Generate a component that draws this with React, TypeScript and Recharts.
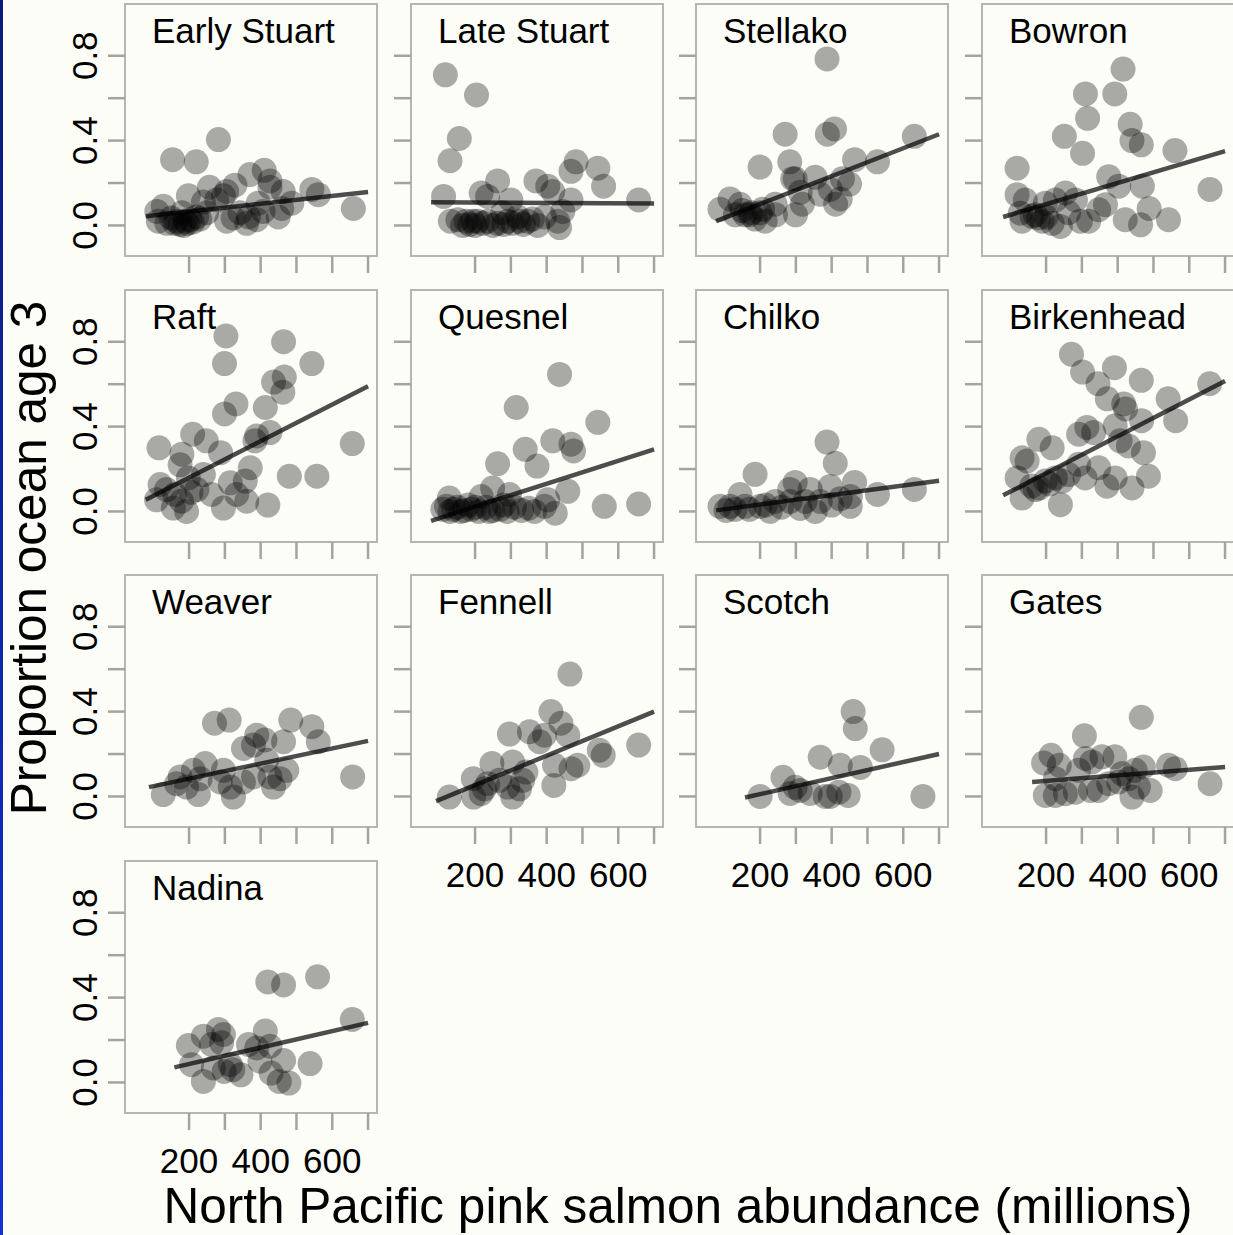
import React from "react";
import { ScatterChart, Scatter, XAxis, YAxis, ReferenceArea, ReferenceLine, Label } from "recharts";

type Pt = [number, number];

const panelNames = [
  "Early Stuart", "Late Stuart", "Stellako", "Bowron",
  "Raft", "Quesnel", "Chilko", "Birkenhead",
  "Weaver", "Fennell", "Scotch", "Gates",
  "Nadina",
];

// x = pink salmon abundance (millions), y = proportion ocean age 3
const earlyStuart: Pt[] = [
  [282, 0.405], [154, 0.31], [220, 0.3], [370, 0.24], [410, 0.26], [198, 0.14], [257, 0.18],
  [305, 0.16], [328, 0.19], [426, 0.21], [463, 0.16], [487, 0.105], [543, 0.17], [561, 0.145],
  [659, 0.08], [110, 0.066], [128, 0.09], [114, 0.02], [138, 0.01], [165, 0.02], [189, 0.02],
  [203, 0.027], [221, 0.04], [240, 0.11], [249, 0.06], [277, 0.12], [296, 0.14], [305, 0.02],
  [323, 0.035], [361, 0.01], [366, 0.04], [389, 0.027], [393, 0.105], [407, 0.066], [426, 0.18],
  [449, 0.04], [459, 0.08], [342, 0.06], [180, 0.06], [175, 0.005], [150, 0.035], [160, 0.01],
  [185, 0.0], [195, 0.01], [210, 0.015], [230, 0.03],
];
const lateStuart: Pt[] = [
  [117, 0.71], [204, 0.615], [156, 0.41], [130, 0.305], [112, 0.137], [131, 0.02], [152, 0.027],
  [175, 0.02], [194, 0.02], [217, 0.153], [263, 0.21], [235, 0.137], [207, 0.02], [235, 0.02],
  [263, 0.01], [300, 0.12], [291, 0.02], [319, 0.04], [347, 0.02], [370, 0.21], [375, 0.0],
  [403, 0.185], [417, 0.16], [394, 0.04], [431, 0.02], [436, -0.01], [445, 0.066], [468, 0.12],
  [482, 0.3], [468, 0.255], [543, 0.27], [559, 0.185], [657, 0.12], [324, 0.02], [277, 0.06],
  [165, 0.0], [185, 0.005], [200, 0.0], [222, 0.01], [250, 0.0], [280, 0.005], [305, 0.01],
  [335, 0.005], [360, 0.03],
];
const stellako: Pt[] = [
  [387, 0.785], [270, 0.43], [388, 0.43], [408, 0.455], [200, 0.275], [283, 0.3], [464, 0.31],
  [528, 0.3], [631, 0.42], [291, 0.22], [430, 0.22], [450, 0.195], [424, 0.125], [411, 0.1],
  [318, 0.1], [299, 0.05], [243, 0.05], [207, 0.076], [172, 0.05], [131, 0.05], [88, 0.076],
  [116, 0.125], [158, 0.05], [186, 0.03], [214, 0.02], [144, 0.1], [368, 0.147], [396, 0.17],
  [354, 0.227], [312, 0.156], [242, 0.1], [298, 0.22], [200, 0.06], [150, 0.07], [175, 0.06],
];
const bowron: Pt[] = [
  [415, 0.737], [310, 0.62], [392, 0.62], [316, 0.505], [251, 0.42], [435, 0.477], [440, 0.4],
  [466, 0.38], [302, 0.34], [560, 0.353], [119, 0.27], [119, 0.145], [142, 0.12], [375, 0.23],
  [403, 0.185], [469, 0.185], [488, 0.08], [542, 0.027], [464, 0.003], [421, 0.027], [347, 0.074],
  [366, 0.098], [319, 0.02], [296, 0.02], [282, 0.12], [254, 0.153], [226, 0.12], [198, 0.105],
  [179, 0.035], [161, 0.043], [133, 0.02], [128, 0.058], [189, 0.02], [217, 0.01], [240, -0.005],
  [263, 0.06], [658, 0.17], [170, 0.05], [200, 0.04],
];
const raft: Pt[] = [
  [303, 0.827], [299, 0.697], [464, 0.8], [543, 0.697], [436, 0.61], [466, 0.634], [462, 0.562],
  [413, 0.49], [331, 0.507], [299, 0.46], [389, 0.356], [426, 0.372], [656, 0.32], [480, 0.166],
  [557, 0.166], [116, 0.3], [210, 0.364], [248, 0.333], [180, 0.27], [175, 0.22], [288, 0.277],
  [371, 0.206], [357, 0.143], [315, 0.135], [240, 0.174], [198, 0.158], [222, 0.103], [119, 0.127],
  [137, 0.103], [109, 0.055], [156, 0.016], [193, 0.0], [179, 0.048], [263, 0.08], [296, 0.016],
  [333, 0.08], [361, 0.048], [420, 0.03], [384, 0.333], [205, 0.09], [160, 0.08],
];
const quesnel: Pt[] = [
  [436, 0.646], [315, 0.49], [543, 0.42], [417, 0.333], [468, 0.317], [475, 0.285], [340, 0.293],
  [373, 0.214], [263, 0.225], [459, 0.095], [249, 0.11], [128, 0.063], [561, 0.024], [657, 0.035],
  [424, -0.008], [394, 0.024], [366, 0.0], [110, 0.01], [130, 0.0], [150, 0.02], [170, 0.005],
  [190, 0.01], [210, 0.0], [230, 0.02], [250, 0.005], [270, 0.01], [290, 0.0], [310, 0.02],
  [330, 0.005], [217, 0.07], [296, 0.08], [403, 0.055], [120, 0.025], [180, 0.03], [140, 0.01],
  [160, 0.0], [200, 0.02], [240, 0.0], [280, 0.03], [350, 0.015],
];
const chilko: Pt[] = [
  [387, 0.327], [410, 0.227], [186, 0.175], [298, 0.137], [464, 0.137], [528, 0.08], [631, 0.104],
  [283, 0.104], [340, 0.104], [396, 0.118], [144, 0.08], [88, 0.024], [116, 0.024], [158, 0.024],
  [200, 0.024], [242, 0.047], [284, 0.047], [326, 0.047], [368, 0.047], [424, 0.06], [452, 0.07],
  [228, 0.0], [354, 0.0], [452, 0.024], [312, 0.014], [105, 0.005], [170, 0.01], [130, 0.01],
  [215, 0.03], [260, 0.02], [400, 0.03],
];
const birkenhead: Pt[] = [
  [271, 0.741], [302, 0.657], [391, 0.678], [466, 0.618], [345, 0.602], [371, 0.531], [417, 0.507],
  [422, 0.483], [541, 0.531], [657, 0.602], [562, 0.428], [467, 0.428], [393, 0.404], [314, 0.396],
  [291, 0.364], [333, 0.372], [407, 0.333], [430, 0.309], [472, 0.277], [180, 0.34], [217, 0.3],
  [133, 0.253], [147, 0.238], [119, 0.158], [133, 0.063], [170, 0.103], [198, 0.143], [226, 0.158],
  [263, 0.174], [309, 0.158], [347, 0.206], [370, 0.119], [393, 0.158], [440, 0.111], [486, 0.166],
  [240, 0.032], [180, 0.11], [245, 0.143], [291, 0.222], [210, 0.13], [160, 0.12],
];
const weaver: Pt[] = [
  [271, 0.345], [312, 0.36], [484, 0.36], [543, 0.329], [561, 0.258], [464, 0.258], [389, 0.289],
  [412, 0.266], [352, 0.226], [380, 0.242], [657, 0.092], [128, 0.009], [226, 0.009], [175, 0.092],
  [193, 0.044], [212, 0.123], [245, 0.155], [231, 0.084], [296, 0.123], [287, 0.068], [324, -0.003],
  [315, 0.044], [352, 0.068], [380, 0.092], [417, 0.171], [426, 0.092], [436, 0.044], [473, 0.123],
  [454, 0.084], [165, 0.06],
];
const fennell: Pt[] = [
  [465, 0.577], [412, 0.4], [440, 0.345], [394, 0.289], [380, 0.258], [352, 0.305], [296, 0.294],
  [459, 0.289], [657, 0.242], [547, 0.218], [558, 0.194], [487, 0.147], [468, 0.131], [422, 0.147],
  [420, 0.052], [247, 0.155], [305, 0.163], [342, 0.115], [195, 0.084], [128, -0.003], [196, -0.003],
  [217, 0.013], [235, 0.06], [268, 0.076], [291, 0.044], [305, -0.003], [324, 0.036], [333, 0.076],
  [226, 0.036],
];
const scotch: Pt[] = [
  [460, 0.4], [466, 0.32], [541, 0.22], [368, 0.185], [424, 0.147], [480, 0.137], [264, 0.09],
  [200, 0.0], [284, 0.014], [312, 0.028], [340, 0.014], [382, 0.0], [396, 0.0], [446, 0.005],
  [655, 0.0], [298, 0.043], [420, 0.02],
];
const gates: Pt[] = [
  [466, 0.373], [307, 0.286], [214, 0.194], [193, 0.158], [237, 0.147], [310, 0.179], [328, 0.163],
  [356, 0.187], [392, 0.187], [412, 0.108], [431, 0.084], [449, 0.123], [472, 0.139], [542, 0.147],
  [561, 0.131], [658, 0.06], [198, 0.005], [226, 0.005], [254, 0.013], [282, 0.02], [324, 0.028],
  [347, 0.028], [375, 0.06], [403, 0.068], [440, -0.003], [491, 0.028], [458, 0.044], [226, 0.084],
  [291, 0.123],
];
const nadina: Pt[] = [
  [420, 0.474], [464, 0.46], [559, 0.498], [656, 0.297], [282, 0.25], [296, 0.226], [240, 0.218],
  [198, 0.174], [263, 0.179], [291, 0.187], [413, 0.242], [366, 0.179], [389, 0.163], [426, 0.171],
  [398, 0.1], [464, 0.103], [538, 0.089], [207, 0.084], [240, 0.005], [298, 0.052], [322, 0.06],
  [345, 0.036], [429, 0.044], [452, 0.005], [479, -0.003], [268, 0.068], [315, 0.084],
];

const panelPoints: Pt[][] = [
  earlyStuart, lateStuart, stellako, bowron, raft, quesnel, chilko, birkenhead,
  weaver, fennell, scotch, gates, nadina,
];

// fitted line endpoints: [x1, y1, x2, y2]
const fitLines: [number, number, number, number][] = [
  [79, 0.043, 700, 0.158], [77, 0.109, 700, 0.103], [77, 0.02, 700, 0.43], [80, 0.04, 700, 0.35],
  [79, 0.055, 700, 0.59], [77, -0.044, 700, 0.293], [77, 0.005, 700, 0.145], [80, 0.076, 700, 0.615],
  [88, 0.044, 700, 0.262], [91, -0.022, 700, 0.4], [158, -0.005, 700, 0.2], [161, 0.068, 700, 0.139],
  [159, 0.071, 700, 0.281],
];

const xTicks = [200, 300, 400, 500, 600, 700];
const xLabels = [200, 400, 600];
const yTicks = [0, 0.2, 0.4, 0.6, 0.8];
const yLabels = [0, 0.4, 0.8];

const X_DOMAIN: [number, number] = [21, 725];
const Y_DOMAIN: [number, number] = [-0.144, 1.044];

const FONT = "'Liberation Sans', Arial, Helvetica, sans-serif";
const BG = "#FCFDF7";
const BOX = 252;
const STEP = 285.5;
const LEFT0 = 125;
const TOP0 = 4;
const AXIS_W = 125;

const Dot = (p: any) => (
  <circle cx={p.cx} cy={p.cy} r={12.5} fill="#000" fillOpacity={0.33} />
);

function Panel({ idx }: { idx: number }) {
  const col = idx % 4;
  const row = Math.floor(idx / 4);
  const boxLeft = LEFT0 + col * STEP;
  const boxTop = TOP0 + row * STEP;
  const showY = col === 0;
  const showX = row === 3 || (row === 2 && col > 0);
  const data = panelPoints[idx].map(([x, y]) => ({ x, y }));
  const [x1, y1, x2, y2] = fitLines[idx];

  const yTick = (p: any) => {
    const v = p.payload.value;
    if (!showY || !yLabels.some((l) => Math.abs(l - v) < 1e-6)) return <g />;
    return (
      <text x={p.x} y={p.y} transform={`rotate(-90, ${p.x}, ${p.y})`} textAnchor="middle"
        fontSize={35} fill="#000" fontFamily={FONT}>
        {v.toFixed(1)}
      </text>
    );
  };
  const xTick = (p: any) => {
    const v = p.payload.value;
    if (!showX || !xLabels.includes(v)) return <g />;
    return (
      <text x={p.x} y={p.y + 43} textAnchor="middle" fontSize={35} fill="#000" fontFamily={FONT}>
        {v}
      </text>
    );
  };

  return (
    <div style={{ position: "absolute", left: boxLeft - AXIS_W, top: boxTop - 2 }}>
      <ScatterChart width={AXIS_W + BOX + 6} height={BOX + 112}
        margin={{ top: 2, right: 6, bottom: 0, left: 0 }}>
        <XAxis type="number" dataKey="x" domain={X_DOMAIN} ticks={xTicks} interval={0}
          allowDataOverflow axisLine={false} tickSize={17} tickMargin={0}
          tickLine={{ stroke: "#A3A3A3", strokeWidth: 2.5 }} tick={xTick} height={110} />
        <YAxis type="number" dataKey="y" domain={Y_DOMAIN} ticks={yTicks} interval={0}
          allowDataOverflow axisLine={false} tickSize={17} tickMargin={11}
          tickLine={{ stroke: "#A3A3A3", strokeWidth: 2.5 }} tick={yTick} width={AXIS_W} />
        <ReferenceArea x1={X_DOMAIN[0]} x2={X_DOMAIN[1]} y1={Y_DOMAIN[0]} y2={Y_DOMAIN[1]}
          fill="none" stroke="#B5B5B5" strokeWidth={2} ifOverflow="visible">
          <Label content={(lp: any) => (
            <text x={lp.viewBox.x + 27} y={lp.viewBox.y + 39} fontSize={35} fill="#000"
              fontFamily={FONT}>
              {panelNames[idx]}
            </text>
          )} />
        </ReferenceArea>
        <Scatter data={data} shape={Dot} isAnimationActive={false} />
        <ReferenceLine segment={[{ x: x1, y: y1 }, { x: x2, y: y2 }]} stroke="#4D4D4D"
          strokeWidth={4.5} ifOverflow="visible" />
      </ScatterChart>
    </div>
  );
}

export default function App() {
  return (
    <div style={{ position: "absolute", left: 0, top: 0, width: 1233, height: 1235,
      background: BG, overflow: "hidden", fontFamily: FONT }}>
      <div style={{ position: "absolute", left: 0, top: 0, width: 3, height: 1235,
        background: "linear-gradient(#0B1A7C, #1232D2)" }} />
      {panelNames.map((_, i) => <Panel key={i} idx={i} />)}
      <svg width={1233} height={1235} style={{ position: "absolute", left: 0, top: 0, pointerEvents: "none" }}>
        <text x={46} y={558} transform="rotate(-90, 46, 558)" textAnchor="middle" fontSize={49.5}
          fill="#000" fontFamily={FONT}>
          Proportion ocean age 3
        </text>
        <text x={678} y={1223} textAnchor="middle" fontSize={49.5} fill="#000" fontFamily={FONT}>
          North Pacific pink salmon abundance (millions)
        </text>
      </svg>
    </div>
  );
}
